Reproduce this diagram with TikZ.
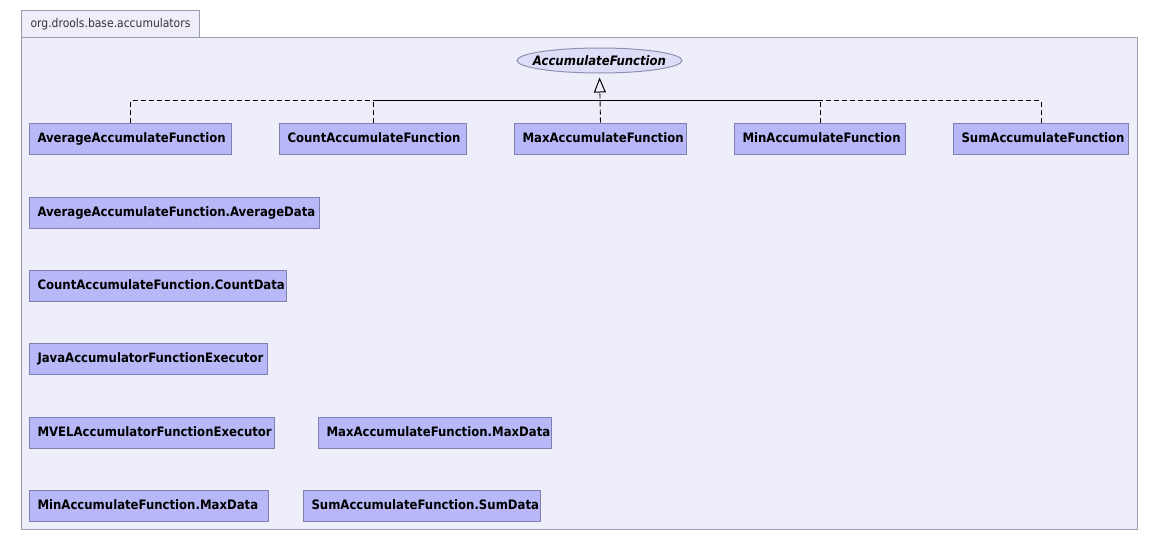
\documentclass[tikz,border=0pt]{standalone}
\usepackage{fontspec}
\usetikzlibrary{arrows.meta,shapes.geometric}
\newfontfamily\umlfont{DejaVu Sans Condensed}
\definecolor{pkgfill}{HTML}{EEEEFB}
\definecolor{pkgline}{HTML}{9C9CB4}
\definecolor{clsfill}{HTML}{B8B8F8}
\definecolor{clsline}{HTML}{8080B0}
\definecolor{ifcfill}{HTML}{DDDDF8}
\definecolor{ifcline}{HTML}{9090B0}
\definecolor{tabtext}{HTML}{333333}
\tikzset{
  cls/.style={draw=clsline, fill=clsfill, line width=1pt, anchor=west,
    minimum height=31pt, inner xsep=8pt, inner ysep=0pt,
    text width=#1-16pt, align=left, text height=10pt, text depth=3pt,
    execute at begin node={\hyphenpenalty=10000\relax},
    font=\umlfont\bfseries\fontsize{13}{15}\selectfont},
  ifc/.style={draw=ifcline, fill=ifcfill, line width=1pt, ellipse,
    minimum width=165pt, minimum height=25pt, inner xsep=-25pt, inner ysep=-4pt,
    font=\umlfont\bfseries\itshape\fontsize{13}{15}\selectfont},
  realize/.style={dashed, dash pattern=on 5pt off 3pt, line width=0.9pt, black},
  pkg/.style={draw=pkgline, fill=pkgfill, line width=1pt},
}
\begin{document}
\begin{tikzpicture}[x=1pt, y=-1pt]
\useasboundingbox (0,0) rectangle (1159,541);
\fill[white] (0,0) rectangle (1159,541);

% package frame with its name tab
\node[pkg, anchor=north west, minimum width=178pt, minimum height=27pt, inner sep=0pt,
  font=\umlfont\fontsize{12}{14}\selectfont, text=tabtext] (tab) at (21,10)
  {org.drools.base.accumulators};
\node[pkg, anchor=north west, minimum width=1116pt, minimum height=492pt, inner sep=0pt]
  (pkgbody) at (21,37) {};

% interface
\node[ifc] (af) at (599.5,60.5) {AccumulateFunction};

% implementing classes
\node[cls=202pt] (avg) at (29,138.5) {AverageAccumulateFunction};
\node[cls=187pt] (cnt) at (279,138.5) {CountAccumulateFunction};
\node[cls=172pt] (max) at (514,138.5) {MaxAccumulateFunction};
\node[cls=171pt] (min) at (734,138.5) {MinAccumulateFunction};
\node[cls=175pt] (sum) at (953,138.5) {SumAccumulateFunction};

% helper classes
\node[cls=290pt] (avgd) at (29,212.5) {AverageAccumulateFunction.AverageData};
\node[cls=257pt] (cntd) at (29,285.5) {CountAccumulateFunction.CountData};
\node[cls=238pt] (java) at (29,358.5) {JavaAccumulatorFunctionExecutor};
\node[cls=245pt] (mvel) at (29,432.5) {MVELAccumulatorFunctionExecutor};
\node[cls=233pt] (maxd) at (318,432.5) {MaxAccumulateFunction.MaxData};
\node[cls=239pt] (mind) at (29,506) {MinAccumulateFunction.MaxData};
\node[cls=237pt] (sumd) at (303,506) {SumAccumulateFunction.SumData};

% realization connectors, merged on one bus
\coordinate (bus) at (599.5,100.5);
\coordinate (busL) at (cnt.north |- bus);
\coordinate (busR) at (min.north |- bus);
\draw[realize] (avg.north) |- (bus);
\draw[realize] (cnt.north) |- (bus);
\draw[realize] (min.north) |- (bus);
\draw[realize] (sum.north) |- (bus);
\draw[line width=0.9pt] (busL) -- (busR);
\draw[realize, -{Triangle[open, length=15pt, width=12pt, line width=1pt]}, shorten >=4pt]
  (max.north) -- (af.south);
\end{tikzpicture}
\end{document}
